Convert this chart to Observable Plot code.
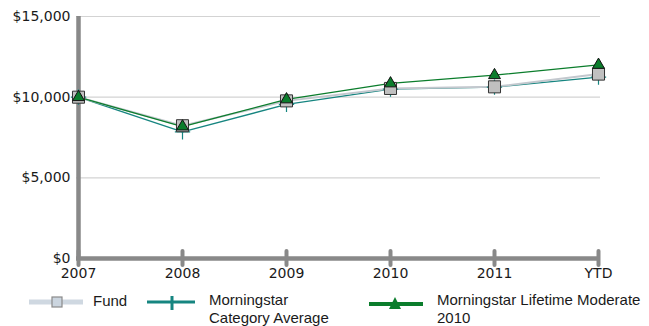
<!DOCTYPE html>
<html>
<head>
<meta charset="utf-8">
<script src="https://cdn.jsdelivr.net/npm/d3@7"></script>
<script src="https://cdn.jsdelivr.net/npm/@observablehq/plot@0.6"></script>
<style>
  body { margin: 0; background: #fff; }
  #wrap { position: relative; width: 649px; height: 326px; overflow: hidden; background: #fff; }
  .lg { position: absolute; font-family: "Liberation Sans", Arial, sans-serif; font-size: 15px; color: #1a1a1a; line-height: 18px; white-space: nowrap; }
  .sw { position: absolute; }
</style>
</head>
<body>
<div id="wrap"></div>
<script>
const categories = ["2007", "2008", "2009", "2010", "2011", "YTD"];
const fundValues = [10000, 8230, 9770, 10540, 10640, 11430];
const categoryAvgValues = [10000, 7850, 9550, 10500, 10620, 11240];
const lifetimeValues = [10000, 8180, 9860, 10850, 11360, 12000];
const yTicks = [0, 5000, 10000, 15000];
const yMinorTicks = [2500, 7500, 12500];
const gridTicks = [5000, 10000, 15000];

const seriesNames = ["Fund", "Morningstar Category Average", "Morningstar Lifetime Moderate 2010"];
const colors = { fundLine: "#c3c8ce", fundFill: "#c0c0c0", teal: "#168580", green: "#0b7d2c", axis: "#898989", grid: "#d3d3d3" };

const toRows = (vals, name) => categories.map((c, i) => ({ cat: c, value: vals[i], series: name }));
const fund = toRows(fundValues, seriesNames[0]);
const catAvg = toRows(categoryAvgValues, seriesNames[1]);
const lifetime = toRows(lifetimeValues, seriesNames[2]);

const fmt = d => "$" + d3.format(",")(d);

const chart = Plot.plot({
  width: 649,
  height: 286,
  marginLeft: 76,
  marginRight: 49,
  marginTop: 16,
  marginBottom: 28,
  style: { fontFamily: "DejaVu Sans, sans-serif", color: "#1a1a1a", background: "transparent", overflow: "visible" },
  x: { type: "point", domain: categories, padding: 0, label: null },
  y: { domain: [0, 15000], label: null },
  marks: [
    Plot.ruleY(gridTicks, { stroke: colors.grid, strokeWidth: 1.2 }),
    Plot.ruleY(yMinorTicks, { x1: categories[0], x2: categories[0], insetLeft: -4, insetRight: 0, stroke: colors.axis, strokeWidth: 1 }),
    Plot.ruleX([categories[0]], { y1: 0, y2: 15000, stroke: colors.axis, strokeWidth: 4.5 }),
    Plot.ruleY([0], { stroke: colors.axis, strokeWidth: 4.5 }),
    Plot.ruleY(gridTicks, { x1: categories[0], x2: categories[0], insetLeft: -7, insetRight: -7, stroke: colors.axis, strokeWidth: 4, strokeLinecap: "round" }),
    Plot.ruleX(categories, { y1: 0, y2: 0, insetTop: -7, insetBottom: -7, stroke: colors.axis, strokeWidth: 4, strokeLinecap: "round" }),
    Plot.axisY({ ticks: yTicks, tickSize: 0, tickPadding: 6, tickFormat: fmt, fontSize: 14, label: null }),
    Plot.axisX({ ticks: categories, tickSize: 0, tickPadding: 10, fontSize: 14, label: null }),
    Plot.line(catAvg, { x: "cat", y: "value", stroke: colors.teal, strokeWidth: 1.3 }),
    Plot.line(fund, { x: "cat", y: "value", stroke: colors.fundLine, strokeWidth: 2 }),
    Plot.line(lifetime, { x: "cat", y: "value", stroke: colors.green, strokeWidth: 1.3 }),
    Plot.dot(catAvg, { x: "cat", y: "value", symbol: "plus", r: 5, stroke: colors.teal, strokeWidth: 1.2 }),
    Plot.dot(fund, { x: "cat", y: "value", symbol: "square", r: 6.8, fill: colors.fundFill, stroke: "#333", strokeWidth: 1 }),
    Plot.dot(lifetime, { x: "cat", y: "value", symbol: "triangle", r: 4.4, fill: colors.green, stroke: "#111", strokeWidth: 1 })
  ]
});

const wrap = document.getElementById("wrap");
chart.style.position = "absolute";
chart.style.left = "0px";
chart.style.top = "0px";
wrap.appendChild(chart);

// Legend (HTML + small inline swatches)
function addSwatch(left, top, w, h, inner) {
  const d = document.createElement("div");
  d.className = "sw";
  d.style.left = left + "px";
  d.style.top = top + "px";
  d.innerHTML = `<svg width="${w}" height="${h}" xmlns="http://www.w3.org/2000/svg">${inner}</svg>`;
  wrap.appendChild(d);
}
function addLabel(left, top, html) {
  const d = document.createElement("div");
  d.className = "lg";
  d.style.left = left + "px";
  d.style.top = top + "px";
  d.innerHTML = html;
  wrap.appendChild(d);
}
// Fund
addSwatch(29, 292, 54, 20, `<line x1="0" y1="10" x2="54" y2="10" stroke="#cfd8e1" stroke-width="5"/><rect x="23" y="5" width="10" height="10" fill="#cbd5df" stroke="#8a8a8a" stroke-width="1.2"/>`);
addLabel(93, 292, "Fund");
// Category average
addSwatch(147, 292, 48, 20, `<line x1="0" y1="10" x2="48" y2="10" stroke="${colors.teal}" stroke-width="3"/><line x1="25" y1="4" x2="25" y2="18" stroke="${colors.teal}" stroke-width="3"/>`);
addLabel(209, 291, "Morningstar<br>Category Average");
// Lifetime
addSwatch(369, 292, 54, 20, `<line x1="0" y1="12" x2="54" y2="12" stroke="${colors.green}" stroke-width="4"/><path d="M26,5 L32,17 L20,17 Z" fill="${colors.green}"/>`);
addLabel(437, 291, "Morningstar Lifetime Moderate<br>2010");
</script>
</body>
</html>
